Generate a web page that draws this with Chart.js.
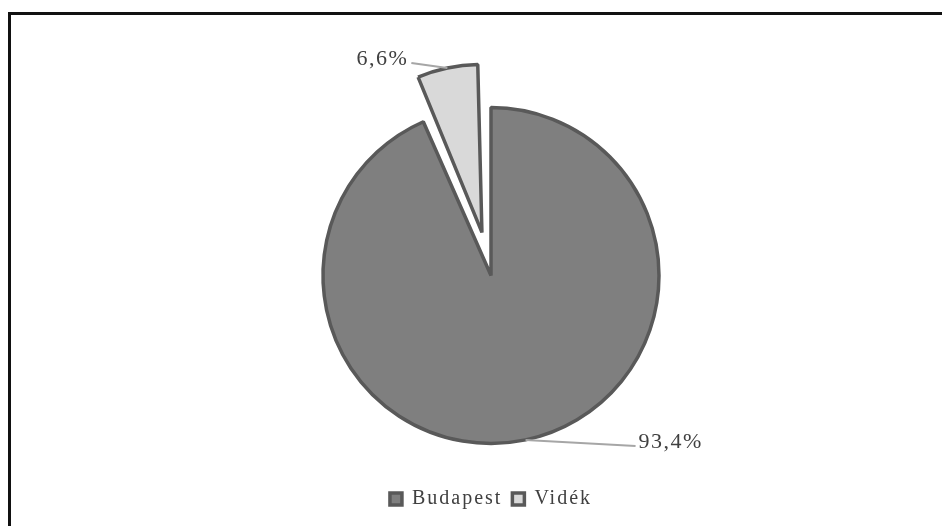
<!DOCTYPE html>
<html>
<head>
<meta charset="utf-8">
<script src="https://cdn.jsdelivr.net/npm/chart.js@4"></script>
<style>
  html, body { margin: 0; padding: 0; background: #fff; overflow: hidden; }
  #frame {
    position: absolute; left: 8px; top: 12px; width: 940px; height: 530px;
    border-left: 3px solid #111; border-top: 3px solid #111;
  }
  #wrap { position: absolute; left: 0; top: 0; width: 942px; height: 526px; }
</style>
</head>
<body>
<div id="frame"></div>
<div id="wrap"><canvas id="chartCanvas"></canvas></div>
<script>
// --- data ---
const regions = ["Budapest", "Vidék"];
const shares = [93.4, 6.6];

const fills = ["#7f7f7f", "#d9d9d9"];
const edge = "#595959";
const serif = "'Liberation Serif', 'Times New Roman', serif";

// wide-set serif text like the original (canvas resize wipes ctx state, so set it each pass)
const spacing = {
  id: "spacing",
  beforeUpdate(chart) { chart.ctx.letterSpacing = "2px"; },
  beforeDraw(chart) { chart.ctx.letterSpacing = "2px"; }
};

// how much v4 grows an offset arc's radius when drawing it
function radiusGrowth(arc) {
  const off = (arc.options.offset || 0) / 4;
  const circ = arc.endAngle - arc.startAngle;
  return off * (1 - Math.sin(Math.min(Math.PI, circ || 0)));
}

// exploded slice keeps the same radius as the rest
const keepRadius = {
  id: "keepRadius",
  afterDatasetsUpdate(chart) {
    chart.getDatasetMeta(0).data.forEach(arc => {
      arc.outerRadius -= radiusGrowth(arc);
    });
  }
};

// leader lines + percent labels, positioned off each arc's own geometry
const pctLabels = {
  id: "pctLabels",
  afterDatasetsDraw(chart) {
    const ctx = chart.ctx;
    const meta = chart.getDatasetMeta(0);
    ctx.save();
    ctx.font = "22px " + serif;
    ctx.letterSpacing = "1.5px";
    ctx.fillStyle = "#404040";
    ctx.strokeStyle = "#a6a6a6";
    ctx.lineWidth = 2;
    ctx.textBaseline = "middle";
    meta.data.forEach((arc, i) => {
      const p = arc.getProps(["x", "y", "startAngle", "endAngle", "outerRadius"], true);
      const mid = (p.startAngle + p.endAngle) / 2;
      const off = (arc.options.offset || 0) / 4; // v4 arcs shift by offset/4
      const r = p.outerRadius + radiusGrowth(arc);
      const cx = p.x + Math.cos(mid) * off;
      const cy = p.y + Math.sin(mid) * off;
      const sx = cx + Math.cos(mid) * r;
      const sy = cy + Math.sin(mid) * r;
      const text = shares[i].toFixed(1).replace(".", ",") + "%";
      let ex, ey;
      if (Math.cos(mid) >= 0) {
        ex = sx + 110; ey = sy + 6;
        ctx.textAlign = "left";
      } else {
        ex = sx - 36; ey = sy - 5;
        ctx.textAlign = "right";
      }
      ctx.beginPath();
      ctx.moveTo(sx, sy);
      ctx.lineTo(ex, ey);
      ctx.stroke();
      ctx.fillText(text, ex + (ctx.textAlign === "left" ? 3 : -3), ey - 4);
    });
    ctx.restore();
  }
};

new Chart(document.getElementById("chartCanvas"), {
  type: "pie",
  data: {
    labels: regions,
    datasets: [{
      data: shares,
      backgroundColor: fills,
      borderColor: edge,
      borderWidth: 3.5,
      offset: [0, 176]
    }]
  },
  options: {
    responsive: true,
    maintainAspectRatio: false,
    animation: false,
    radius: 168,
    events: [],
    layout: { padding: { left: 40, right: 0, top: 72, bottom: 7 } },
    plugins: {
      tooltip: { enabled: false },
      legend: {
        position: "bottom",
        labels: {
          boxWidth: 12,
          boxHeight: 12,
          padding: 10,
          color: "#404040",
          font: { family: serif, size: 20 }
        }
      }
    }
  },
  plugins: [spacing, keepRadius, pctLabels]
});
</script>
</body>
</html>
